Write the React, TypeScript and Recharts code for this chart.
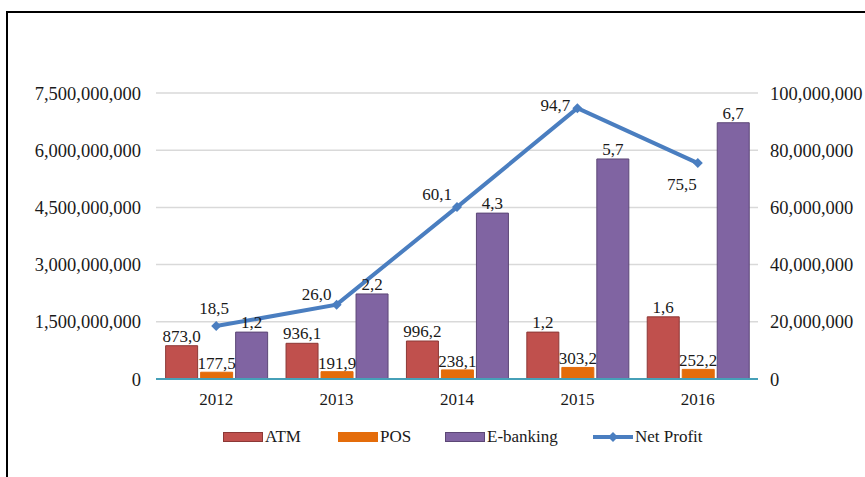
import React from 'react';
import { ComposedChart, Bar, Line, XAxis, YAxis, CartesianGrid, Legend, LabelList } from 'recharts';

const years = ['2012', '2013', '2014', '2015', '2016'];
const atm = [873000000, 936100000, 996200000, 1230000000, 1630000000];
const pos = [177500000, 191900000, 238100000, 303200000, 252200000];
const ebanking = [1230000000, 2230000000, 4350000000, 5770000000, 6720000000];
const netProfit = [18500000, 26000000, 60100000, 94700000, 75500000];

// labels as printed on the original chart
const atmLabels = ['873,0', '936,1', '996,2', '1,2', '1,6'];
const posLabels = ['177,5', '191,9', '238,1', '303,2', '252,2'];
const ebankingLabels = ['1,2', '2,2', '4,3', '5,7', '6,7'];
const profitLabels = ['18,5', '26,0', '60,1', '94,7', '75,5'];

const leftTicks = [0, 1500000000, 3000000000, 4500000000, 6000000000, 7500000000];
const rightTicks = [0, 20000000, 40000000, 60000000, 80000000, 100000000];

const data = years.map((year, i) => ({
  year,
  atm: atm[i],
  pos: pos[i],
  ebanking: ebanking[i],
  netProfit: netProfit[i],
}));

const FONT = '"Liberation Serif", "Times New Roman", serif';
const COLORS = { atm: '#C0504D', pos: '#E46C0A', ebanking: '#8064A2', line: '#4A7EC0' };

const fmt = (v: number) => v.toLocaleString('en-US');

// where each profit label sits relative to its point
const profitOffsets = [
  [-2, -18],
  [-20, -10],
  [-20, -13],
  [-22, -3],
  [-16, 21],
];

const ProfitLabel = (props: any) => {
  const { x, y, index } = props;
  const [dx, dy] = profitOffsets[index] || [0, -15];
  return (
    <text x={x + dx} y={y + dy} textAnchor="middle" dominantBaseline="central" fontSize={17} fontFamily={FONT} fill="#1a1a1a">
      {profitLabels[index]}
    </text>
  );
};

const Diamond = (props: any) => {
  const { cx, cy } = props;
  if (cx == null || cy == null) return null;
  const r = 5;
  return <polygon points={`${cx},${cy - r} ${cx + r},${cy} ${cx},${cy + r} ${cx - r},${cy}`} fill={COLORS.line} />;
};

const LegendContent = () => {
  const item = (swatch: React.ReactNode, text: string, w: number) => (
    <div style={{ display: 'flex', alignItems: 'center', width: w }}>
      {swatch}
      <span style={{ marginLeft: 2 }}>{text}</span>
    </div>
  );
  const box = (c: string, s: string) => (
    <svg width={40} height={10}>
      <rect x={0.5} y={0.5} width={39} height={9} fill={c} stroke={s} />
    </svg>
  );
  return (
    <div style={{ display: 'flex', justifyContent: 'flex-start', paddingLeft: 223, fontFamily: FONT, fontSize: 17, color: '#1a1a1a' }}>
      {item(box(COLORS.atm, '#8C3836'), 'ATM', 115)}
      {item(box(COLORS.pos, '#E46C0A'), 'POS', 107)}
      {item(box(COLORS.ebanking, '#5C4776'), 'E-banking', 148)}
      {item(
        <svg width={40} height={10}>
          <line x1={0} y1={5} x2={40} y2={5} stroke={COLORS.line} strokeWidth={4} />
          <polygon points="20,0 25,5 20,10 15,5" fill={COLORS.line} />
        </svg>,
        'Net Profit',
        130
      )}
    </div>
  );
};

const App: React.FC = () => {
  return (
    <div style={{ position: 'absolute', left: 0, top: 0, width: 865, height: 477, background: '#fff' }}>
      <div style={{ position: 'absolute', left: 6, top: 11, width: 859, height: 466, borderTop: '2px solid #000', borderLeft: '2px solid #000' }} />
      <ComposedChart
        width={865}
        height={477}
        data={data}
        margin={{ top: 93, right: 0, bottom: 68, left: 0 }}
        barCategoryGap="8%"
        barGap={3}
        style={{ position: 'absolute', left: 0, top: 0 }}
      >
        <CartesianGrid vertical={false} stroke="#D9D9D9" strokeWidth={1.5} yAxisId="left" />
        <XAxis
          dataKey="year"
          height={30}
          tickSize={0}
          tickMargin={14}
          axisLine={{ stroke: '#46A0B8', strokeWidth: 2 }}
          tick={{ fontSize: 17, fontFamily: FONT, fill: '#1a1a1a' }}
        />
        <YAxis
          yAxisId="left"
          width={156}
          domain={[0, 7500000000]}
          ticks={leftTicks}
          tickFormatter={fmt}
          axisLine={false}
          tickSize={0}
          tickMargin={15}
          tick={{ fontSize: 18.5, fontFamily: FONT, fill: '#1a1a1a' }}
        />
        <YAxis
          yAxisId="right"
          orientation="right"
          width={107}
          domain={[0, 100000000]}
          ticks={rightTicks}
          tickFormatter={fmt}
          axisLine={false}
          tickSize={0}
          tickMargin={12}
          tick={{ fontSize: 18.5, fontFamily: FONT, fill: '#1a1a1a', textAnchor: 'start' }}
        />
        <Legend
          layout="horizontal"
          verticalAlign="middle"
          align="center"
          wrapperStyle={{ top: 427, left: 0, width: 865 }}
          content={<LegendContent />}
        />
        <Bar yAxisId="left" dataKey="atm" name="ATM" fill={COLORS.atm} stroke="#8C3836" isAnimationActive={false}>
          <LabelList dataKey="atm" position="top" content={(p: any) => (
            <text x={p.x + p.width / 2} y={p.y - 4} textAnchor="middle" fontSize={17} fontFamily={FONT} fill="#1a1a1a">{atmLabels[p.index]}</text>
          )} />
        </Bar>
        <Bar yAxisId="left" dataKey="pos" name="POS" fill={COLORS.pos} stroke="#E46C0A" isAnimationActive={false}>
          <LabelList dataKey="pos" position="top" content={(p: any) => (
            <text x={p.x + p.width / 2} y={p.y - 3} textAnchor="middle" fontSize={17} fontFamily={FONT} fill="#1a1a1a">{posLabels[p.index]}</text>
          )} />
        </Bar>
        <Bar yAxisId="left" dataKey="ebanking" name="E-banking" fill={COLORS.ebanking} stroke="#5C4776" isAnimationActive={false}>
          <LabelList dataKey="ebanking" position="top" content={(p: any) => (
            <text x={p.x + p.width / 2} y={p.y - 4} textAnchor="middle" fontSize={17} fontFamily={FONT} fill="#1a1a1a">{ebankingLabels[p.index]}</text>
          )} />
        </Bar>
        <Line
          yAxisId="right"
          dataKey="netProfit"
          name="Net Profit"
          stroke={COLORS.line}
          strokeWidth={4}
          dot={<Diamond />}
          activeDot={false}
          isAnimationActive={false}
        >
          <LabelList dataKey="netProfit" content={<ProfitLabel />} />
        </Line>
      </ComposedChart>
    </div>
  );
};

export default App;
